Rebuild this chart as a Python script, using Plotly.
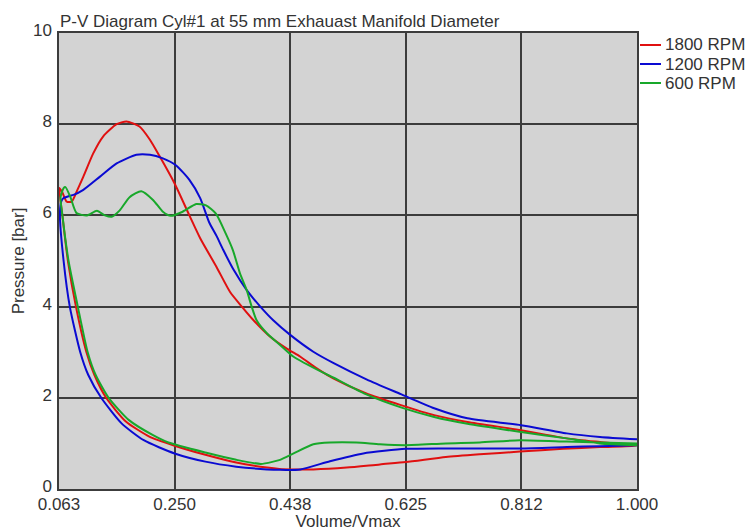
import plotly.graph_objects as go

# ---------------- data ----------------
series_names = ["1800 RPM", "1200 RPM", "600 RPM"]
series_colors = ["#e01010", "#0a0ad2", "#18a82a"]

# 1800 RPM: lower branch (x=1 -> 0.063) then upper branch (0.063 -> 1)
rpm1800_x = [1.000, 0.940, 0.880, 0.810, 0.745, 0.690, 0.625, 0.583, 0.529, 0.475,
             0.440, 0.420, 0.400, 0.350, 0.300, 0.250, 0.209, 0.171, 0.139, 0.120,
             0.107, 0.090, 0.077, 0.068, 0.063,
             0.068, 0.075, 0.083, 0.092, 0.102, 0.118, 0.134, 0.156, 0.172, 0.193,
             0.210, 0.226, 0.250, 0.274, 0.2915, 0.318, 0.340, 0.359, 0.378, 0.405,
             0.432, 0.454, 0.480, 0.508, 0.560, 0.617, 0.671, 0.725, 0.812, 0.886,
             0.940, 1.000]
rpm1800_y = [0.95, 0.92, 0.88, 0.82, 0.76, 0.70, 0.59, 0.54, 0.47, 0.43,
             0.43, 0.44, 0.47, 0.58, 0.75, 0.95, 1.15, 1.48, 2.00, 2.50,
             3.00, 4.00, 5.00, 6.00, 6.60,
             6.50, 6.30, 6.30, 6.55, 6.85, 7.36, 7.73, 8.00, 8.06, 7.95,
             7.66, 7.29, 6.70, 6.00, 5.50, 4.87, 4.32, 4.00, 3.70, 3.34,
             3.08, 2.90, 2.65, 2.42, 2.10, 1.84, 1.62, 1.47, 1.29, 1.11,
             1.03, 0.95]

rpm1200_x = [1.000, 0.940, 0.886, 0.810, 0.690, 0.625, 0.556, 0.502, 0.454, 0.420,
             0.400, 0.350, 0.300, 0.250, 0.200, 0.164, 0.131, 0.110, 0.097, 0.080,
             0.070, 0.064,
             0.066, 0.070, 0.078, 0.086, 0.102, 0.129, 0.156, 0.188, 0.210, 0.231,
             0.252, 0.274, 0.2915, 0.306, 0.318, 0.329, 0.346, 0.367, 0.389, 0.410,
             0.4375, 0.475, 0.508, 0.562, 0.617, 0.671, 0.725, 0.812, 0.886, 0.940,
             1.000]
rpm1200_y = [0.96, 0.94, 0.92, 0.89, 0.89, 0.88, 0.78, 0.61, 0.43, 0.42,
             0.43, 0.49, 0.60, 0.78, 1.07, 1.44, 2.00, 2.50, 3.00, 4.00,
             5.00, 6.00,
             6.30, 6.38, 6.42, 6.45, 6.56, 6.85, 7.14, 7.33, 7.33, 7.25,
             7.10, 6.78, 6.38, 5.85, 5.55, 5.24, 4.80, 4.36, 4.00, 3.70,
             3.38, 3.01, 2.76, 2.40, 2.08, 1.77, 1.55, 1.40, 1.22, 1.14,
             1.09]

rpm600_x = [1.000, 0.940, 0.886, 0.810, 0.745, 0.690, 0.625, 0.583, 0.545, 0.502,
            0.475, 0.443, 0.421, 0.410, 0.390, 0.350, 0.300, 0.240, 0.215, 0.176,
            0.143, 0.122, 0.109, 0.093, 0.078, 0.068, 0.065,
            0.070, 0.073, 0.081, 0.091, 0.108, 0.124, 0.137, 0.148, 0.161, 0.177,
            0.196, 0.215, 0.231, 0.244, 0.263, 0.285, 0.301, 0.317, 0.333, 0.3445,
            0.356, 0.367, 0.375, 0.383, 0.400, 0.421, 0.443, 0.491, 0.508, 0.560,
            0.617, 0.671, 0.725, 0.812, 0.886, 0.940, 1.000]
rpm600_y = [1.00, 1.02, 1.04, 1.07, 1.02, 1.00, 0.96, 0.98, 1.02, 1.02,
            0.98, 0.78, 0.64, 0.60, 0.55, 0.64, 0.80, 1.02, 1.18, 1.51,
            2.00, 2.50, 3.00, 4.00, 5.00, 6.00, 6.40,
            6.60, 6.62, 6.40, 6.05, 6.00, 6.10, 6.00, 5.97, 6.11, 6.40,
            6.53, 6.34, 6.08, 5.99, 6.08, 6.25, 6.22, 6.04, 5.60, 5.24,
            4.73, 4.36, 4.00, 3.70, 3.41, 3.16, 2.90, 2.55, 2.44, 2.08,
            1.79, 1.58, 1.43, 1.25, 1.11, 1.00, 0.96]

x_tick_vals = [0.0625, 0.25, 0.4375, 0.625, 0.8125, 1.0]
x_tick_text = ["0.063", "0.250", "0.438", "0.625", "0.812", "1.000"]
y_tick_vals = [0, 2, 4, 6, 8, 10]

title_text = "P-V Diagram Cyl#1 at 55 mm Exhauast Manifold Diameter"
x_title = "Volume/Vmax"
y_title = "Pressure [bar]"

# ---------------- figure ----------------
W, H = 749, 531
ML, MR, MT, MB = 59, 112, 33, 42
FONT = "Liberation Sans, Arial, sans-serif"
TXT = "#333333"
GRID = "#3c3c3c"

fig = go.Figure()
all_x = [rpm1800_x, rpm1200_x, rpm600_x]
all_y = [rpm1800_y, rpm1200_y, rpm600_y]
for name, color, xs, ys in zip(series_names, series_colors, all_x, all_y):
    fig.add_trace(go.Scatter(
        x=xs, y=ys, name=name, mode="lines",
        line=dict(color=color, width=2, shape="spline", smoothing=0.6),
        showlegend=False,
    ))

# hand-drawn legend (short line samples like the original)
plot_w = W - ML - MR
plot_h = H - MT - MB
def px_to_paper_x(px):
    return (px - ML) / plot_w
def px_to_paper_y(py):
    return (H - MB - py) / plot_h

legend_rows_py = [45, 64, 83]
shapes = []
annotations = []
for name, color, py in zip(series_names, series_colors, legend_rows_py):
    yy = px_to_paper_y(py)
    shapes.append(dict(type="line", xref="paper", yref="paper",
                       x0=px_to_paper_x(640), x1=px_to_paper_x(661), y0=yy, y1=yy,
                       line=dict(color=color, width=2)))
    annotations.append(dict(xref="paper", yref="paper", x=px_to_paper_x(664), y=yy,
                            xanchor="left", yanchor="middle", text=name, showarrow=False,
                            borderpad=0,
                            font=dict(family=FONT, size=17, color=TXT)))

fig.update_layout(
    width=W, height=H,
    margin=dict(l=ML, r=MR, t=MT, b=MB, pad=0, autoexpand=False),
    paper_bgcolor="white",
    plot_bgcolor="#d3d3d3",
    font=dict(family=FONT, size=17, color=TXT),
    title=dict(text=title_text, x=60 / W, xanchor="left", xref="container",
               y=1 - 21 / H, yanchor="middle", yref="container",
               font=dict(family=FONT, size=17, color=TXT)),
    shapes=shapes,
    annotations=annotations,
    showlegend=False,
)
fig.update_xaxes(
    range=[0.0625, 1.0], tickvals=x_tick_vals, ticktext=x_tick_text,
    automargin=False,
    showgrid=True, gridcolor=GRID, gridwidth=1.5, zeroline=False,
    showline=True, linecolor=GRID, linewidth=1.5, mirror=True,
    ticks="", ticklabelstandoff=-1,
    tickfont=dict(family=FONT, size=17, color=TXT),
    title=dict(text=x_title, standoff=1, font=dict(family=FONT, size=17, color=TXT)),
)
fig.update_yaxes(
    range=[0, 10], tickvals=y_tick_vals,
    automargin=False,
    showgrid=True, gridcolor=GRID, gridwidth=1.5, zeroline=False,
    showline=True, linecolor=GRID, linewidth=1.5, mirror=True,
    ticks="outside", ticklen=2, tickcolor="rgba(0,0,0,0)",
    ticklabelshift=-3,
    tickfont=dict(family=FONT, size=17, color=TXT),
    title=dict(text=y_title, standoff=4, font=dict(family=FONT, size=17, color=TXT)),
)

fig.write_html(
    "out.html",
    config={"displayModeBar": False},
    post_script="document.body.style.margin='0';document.body.style.overflow='hidden';",
)
